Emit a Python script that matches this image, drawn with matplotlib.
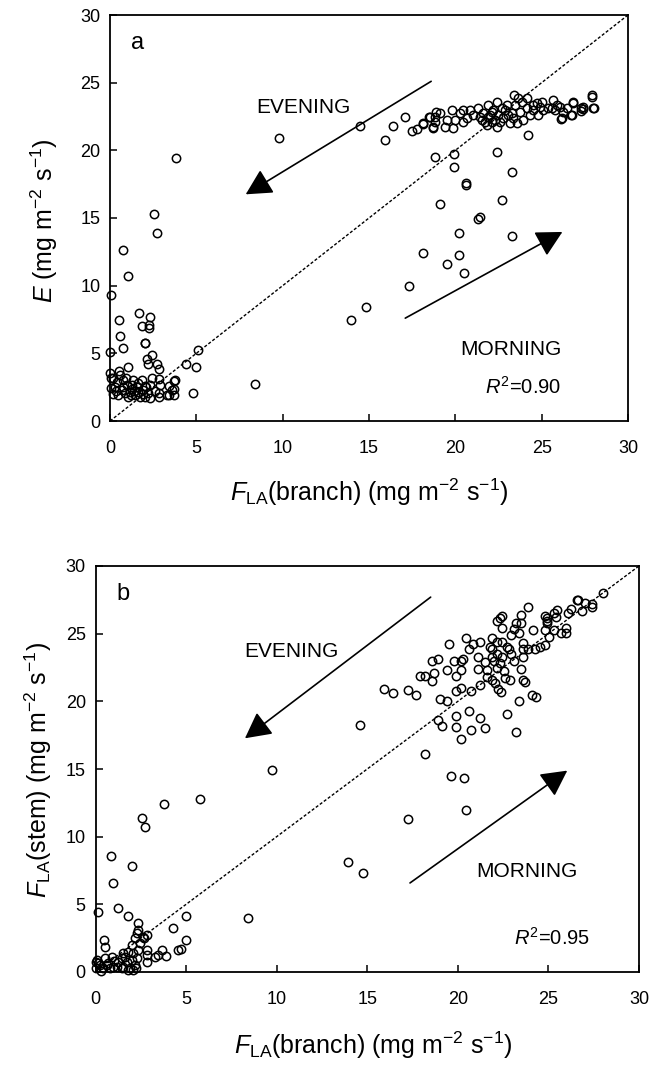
import numpy as np
import matplotlib
matplotlib.use("Agg")
import matplotlib.pyplot as plt

plt.rcParams['font.family'] = ['Liberation Sans', 'DejaVu Sans']
plt.rcParams['mathtext.fontset'] = 'custom'
plt.rcParams['mathtext.rm'] = 'Liberation Sans'
plt.rcParams['mathtext.it'] = 'Liberation Sans:italic'

# ---- panel a: E vs F_LA(branch) ----
a_low = [(0.06, 9.3), (0.0, 5.1), (0.5, 7.5), (0.6, 6.3), (0.75, 5.4), (0.75, 12.6), (1.05, 10.7),
         (1.7, 8.0), (2.3, 7.7), (2.25, 6.9), (2.25, 7.1), (1.85, 7.0), (2.0, 5.8), (2.03, 5.74),
         (2.45, 4.85), (2.15, 4.55), (2.2, 4.2), (2.75, 4.2), (2.85, 3.85), (2.85, 3.1), (4.4, 4.2),
         (5.0, 4.0), (4.8, 2.05), (3.7, 2.95), (3.7, 2.4), (3.7, 1.9), (3.4, 2.6), (3.4, 1.9),
         (2.85, 2.1), (2.85, 1.8), (1.05, 4.0), (0.5, 3.7), (5.1, 5.25), (0.0, 3.53), (0.05, 3.16),
         (0.19, 3.16), (0.58, 3.4), (0.77, 3.03), (0.05, 2.42), (0.29, 2.54), (0.48, 1.93), (0.67, 2.3),
         (0.96, 2.67), (1.16, 2.17), (1.25, 2.67), (1.45, 1.93), (1.54, 2.54), (1.83, 3.03), (1.93, 2.3),
         (2.03, 1.8), (2.22, 2.05), (2.32, 2.67), (2.41, 3.16), (2.32, 1.68), (1.74, 1.8), (1.06, 1.8),
         (0.87, 2.05), (0.39, 2.91), (1.35, 3.03), (0.77, 2.54), (1.64, 2.17), (2.89, 2.67), (3.57, 2.3),
         (3.28, 1.93), (3.76, 3.03), (1.3, 2.4), (1.9, 2.0), (0.2, 2.0), (1.2, 1.9), (2.1, 2.5),
         (0.9, 3.2), (1.6, 2.8), (2.6, 2.2), (0.35, 2.2), (1.4, 2.2), (2.0, 2.6)]
a_mid = [(3.8, 19.4), (2.55, 15.3), (2.7, 13.9), (9.8, 20.9), (8.4, 2.7), (13.95, 7.5), (14.8, 8.4),
         (14.5, 21.8), (15.9, 20.8), (16.4, 21.8), (17.1, 22.5), (17.5, 21.4), (17.8, 21.6), (18.1, 21.95),
         (18.5, 22.5), (18.7, 21.7), (18.9, 22.8), (18.8, 19.5), (19.9, 19.7), (19.9, 18.8), (22.4, 19.9),
         (23.3, 18.4), (20.6, 17.6), (20.6, 17.45), (19.1, 16.0), (22.7, 16.3), (21.3, 14.9), (21.4, 15.1),
         (20.2, 13.9), (23.3, 13.7), (18.1, 12.4), (20.2, 12.3), (19.5, 11.6), (20.5, 10.9), (17.3, 10.0),
         (24.2, 21.1), (23.4, 24.1), (27.9, 24.1), (28.0, 23.1), (27.3, 23.1), (27.3, 22.9), (26.8, 23.5),
         (26.7, 22.6), (26.1, 22.3)]
a_band = [(18.14, 22.0), (18.53, 22.49), (18.72, 21.63), (18.82, 22.12), (19.11, 22.74), (19.4, 21.75),
          (19.5, 22.24), (19.78, 22.98), (19.88, 21.63), (19.98, 22.24), (20.27, 22.74), (20.46, 22.98),
          (20.65, 22.37), (20.85, 22.98), (21.04, 22.61), (21.33, 23.1), (21.52, 22.24), (21.62, 22.74),
          (21.81, 21.87), (21.91, 23.35), (22.0, 22.61), (22.1, 22.12), (22.2, 22.98), (22.39, 23.6),
          (22.39, 21.75), (22.49, 22.61), (22.68, 23.1), (22.78, 22.37), (22.97, 23.35), (23.16, 22.0),
          (23.26, 22.74), (23.45, 23.35), (23.55, 22.0), (23.64, 23.84), (23.74, 22.86), (23.84, 23.6),
          (24.13, 23.84), (24.13, 23.1), (24.32, 22.61), (24.51, 22.98), (24.71, 23.47), (24.8, 22.61),
          (25.0, 23.6), (25.09, 22.98), (25.38, 23.1), (25.67, 23.72), (25.77, 22.98), (26.06, 23.23),
          (26.15, 22.37), (26.44, 23.1), (26.73, 22.61), (26.83, 23.6), (27.37, 23.23), (27.37, 23.06),
          (27.89, 23.97), (28.03, 23.1), (18.82, 22.49), (20.46, 22.12), (21.42, 22.49), (22.58, 22.12),
          (23.07, 22.61), (23.93, 22.24), (23.36, 22.37), (21.91, 22.49), (21.71, 22.12), (22.29, 22.24),
          (22.87, 22.98), (22.1, 22.86), (24.9, 23.23), (24.51, 23.35), (25.58, 23.1), (25.87, 23.35),
          (26.25, 22.86)]

# ---- panel b: F_LA(stem) vs F_LA(branch) ----
b_low = [(0.16, 4.46), (1.26, 4.7), (1.78, 4.14), (2.37, 3.6), (2.28, 2.86), (0.47, 2.36), (0.53, 1.87),
         (2.18, 2.49), (2.64, 2.61), (2.83, 2.73), (2.46, 2.12), (2.0, 2.0), (1.82, 1.5), (1.54, 1.38),
         (2.09, 1.38), (2.37, 1.63), (2.83, 1.63), (2.83, 1.26), (2.83, 0.76), (3.47, 1.26), (3.66, 1.63),
         (3.29, 1.13), (4.3, 3.23), (4.57, 1.63), (0.05, 0.76), (0.07, 0.89), (0.25, 0.52), (0.53, 1.01),
         (0.71, 0.64), (0.9, 1.13), (0.99, 0.39), (1.26, 0.76), (1.45, 1.01), (1.54, 0.39), (1.72, 0.76),
         (1.91, 0.27), (2.0, 0.89), (2.18, 0.52), (2.28, 1.01), (1.63, 1.13), (1.17, 0.39), (0.8, 0.27),
         (0.44, 0.27), (0.0, 0.27), (0.16, 0.64), (2.09, 0.15), (1.82, 0.15), (1.45, 0.27), (0.62, 0.52),
         (2.33, 3.1), (5.0, 4.14), (5.0, 2.36), (4.7, 1.67), (3.9, 1.2), (2.7, 2.54), (1.0, 0.8),
         (0.3, 0.1), (2.25, 0.3)]
b_mid = [(9.72, 14.9), (5.77, 12.8), (3.78, 12.4), (2.58, 11.35), (2.73, 10.7), (0.86, 8.6), (2.03, 7.85),
         (0.98, 6.6), (8.4, 3.97), (13.95, 8.15), (14.75, 7.3), (14.6, 18.25), (15.9, 20.9), (16.4, 20.65),
         (17.26, 20.84), (17.67, 20.5), (18.2, 16.1), (19.64, 14.5), (20.32, 14.34), (20.45, 12.0),
         (17.25, 11.33), (17.9, 21.9), (18.2, 21.9), (18.6, 21.5), (18.6, 22.96), (18.9, 23.1), (18.7, 22.1),
         (19.0, 20.2), (19.4, 20.0), (19.4, 22.3), (19.5, 24.2), (18.9, 18.6), (19.1, 18.2), (19.9, 18.9),
         (19.9, 18.1), (20.2, 17.2), (20.6, 19.3), (20.7, 17.9), (21.2, 18.75), (21.5, 18.05), (22.7, 19.1),
         (23.2, 17.7), (23.35, 20.0), (22.4, 20.7), (22.9, 21.6), (23.6, 21.6), (23.7, 21.4), (24.1, 20.5),
         (24.3, 20.3), (23.5, 22.4), (19.8, 23.0), (20.2, 23.0), (20.3, 23.1), (19.9, 21.9), (20.2, 22.3),
         (19.9, 20.8), (20.2, 21.0), (20.7, 20.8)]
b_top = [(20.45, 24.7), (20.6, 23.85), (20.85, 24.2), (21.1, 23.3), (21.1, 22.4), (21.2, 24.4), (21.25, 21.2),
         (21.5, 22.9), (21.6, 22.3), (21.6, 21.8), (21.9, 24.7), (21.9, 23.84), (21.9, 23.3), (22.16, 24.39),
         (22.16, 23.47), (22.16, 22.44), (22.03, 21.38), (22.43, 24.39), (22.43, 23.3), (22.56, 22.27),
         (22.84, 23.84), (22.95, 23.47), (22.95, 24.9), (23.08, 25.32), (23.35, 25.08), (23.48, 26.36),
         (23.61, 24.29), (23.89, 27.0), (23.48, 25.77), (23.23, 25.77), (23.61, 23.84), (23.61, 23.3),
         (23.87, 23.84), (24.13, 25.25), (24.27, 23.84), (24.53, 24.04), (24.79, 24.19), (24.79, 25.25),
         (25.05, 24.73), (25.29, 25.25), (25.45, 26.75), (25.32, 26.5), (24.94, 26.13), (24.94, 25.96),
         (24.94, 25.77), (25.71, 25.08), (25.97, 25.42), (25.97, 25.08), (26.08, 26.5), (26.22, 26.85),
         (26.63, 27.49), (26.87, 26.65), (27.42, 27.19), (27.42, 26.95), (22.43, 25.42), (22.3, 26.13),
         (22.16, 25.96), (22.43, 26.31), (22.0, 23.0), (22.3, 22.8), (21.8, 24.0), (22.7, 24.0),
         (23.1, 23.0), (22.6, 21.7), (21.9, 21.6), (22.2, 20.9), (26.6, 27.5), (27.0, 27.3),
         (28.0, 28.0), (25.4, 26.2), (24.8, 26.3)]

ticks = [0, 5, 10, 15, 20, 25, 30]
W, H = 649, 1065


def fx(px):
    return px / W


def fy(py):
    return 1 - py / H


def scatter_panel(ax, groups):
    pts = np.array([p for g in groups for p in g])
    ax.plot(pts[:, 0], pts[:, 1], 'o', ms=6, mfc='none', mec='k', mew=1.1, clip_on=False)
    ax.plot([0, 30], [0, 30], color='k', lw=1.0, ls=(0, (2.2, 1.4)))
    ax.set_xlim(0, 30)
    ax.set_ylim(0, 30)
    ax.set_xticks(ticks)
    ax.set_yticks(ticks)
    ax.tick_params(direction='in', length=5, width=1.1, labelsize=13, top=False, right=False)
    ax.tick_params(axis='x', pad=14)
    ax.tick_params(axis='y', pad=7)
    for s in ax.spines.values():
        s.set_linewidth(1.3)


def arrow(ax, start, tip):
    ax.annotate('', xy=tip, xytext=start,
                arrowprops=dict(arrowstyle='-|>,head_length=0.8,head_width=0.42',
                                mutation_scale=20, lw=1.2, color='k', shrinkA=0, shrinkB=0))


fig = plt.figure(figsize=(6.49, 10.65), dpi=100)

# panel a
axa = fig.add_axes([fx(110), fy(421), fx(628) - fx(110), fy(15) - fy(421)])
scatter_panel(axa, [a_low, a_mid, a_band])
arrow(axa, (18.6, 25.1), (7.86, 16.75))
arrow(axa, (17.1, 7.6), (26.2, 13.97))
axa.text(11.2, 23.2, 'EVENING', fontsize=15, ha='center', va='center')
axa.text(23.2, 5.25, 'MORNING', fontsize=15, ha='center', va='center')
axa.text(23.9, 2.5, r'$R^2$=0.90', fontsize=14.5, ha='center', va='center')
axa.text(1.6, 27.9, 'a', fontsize=17, ha='center', va='center')
fig.text(fx(369), fy(492), r'$F_{\mathrm{LA}}$(branch) (mg m$^{-2}$ s$^{-1}$)',
         fontsize=18, ha='center', va='center')
fig.text(fx(44), fy(221), r'$E$ (mg m$^{-2}$ s$^{-1}$)', fontsize=18,
         ha='center', va='center', rotation=90)

# panel b
axb = fig.add_axes([fx(95.5), fy(972), fx(639) - fx(95.5), fy(566) - fy(972)])
scatter_panel(axb, [b_low, b_mid, b_top])
arrow(axb, (18.5, 27.7), (8.25, 17.27))
arrow(axb, (17.36, 6.58), (26.04, 14.88))
axb.text(10.83, 23.67, 'EVENING', fontsize=15, ha='center', va='center')
axb.text(23.8, 7.46, 'MORNING', fontsize=15, ha='center', va='center')
axb.text(25.2, 2.5, r'$R^2$=0.95', fontsize=14.5, ha='center', va='center')
axb.text(1.5, 27.9, 'b', fontsize=17, ha='center', va='center')
fig.text(fx(373), fy(1045), r'$F_{\mathrm{LA}}$(branch) (mg m$^{-2}$ s$^{-1}$)',
         fontsize=18, ha='center', va='center')
fig.text(fx(38), fy(770), r'$F_{\mathrm{LA}}$(stem) (mg m$^{-2}$ s$^{-1}$)', fontsize=18,
         ha='center', va='center', rotation=90)

fig.savefig('out.png', dpi=100)
